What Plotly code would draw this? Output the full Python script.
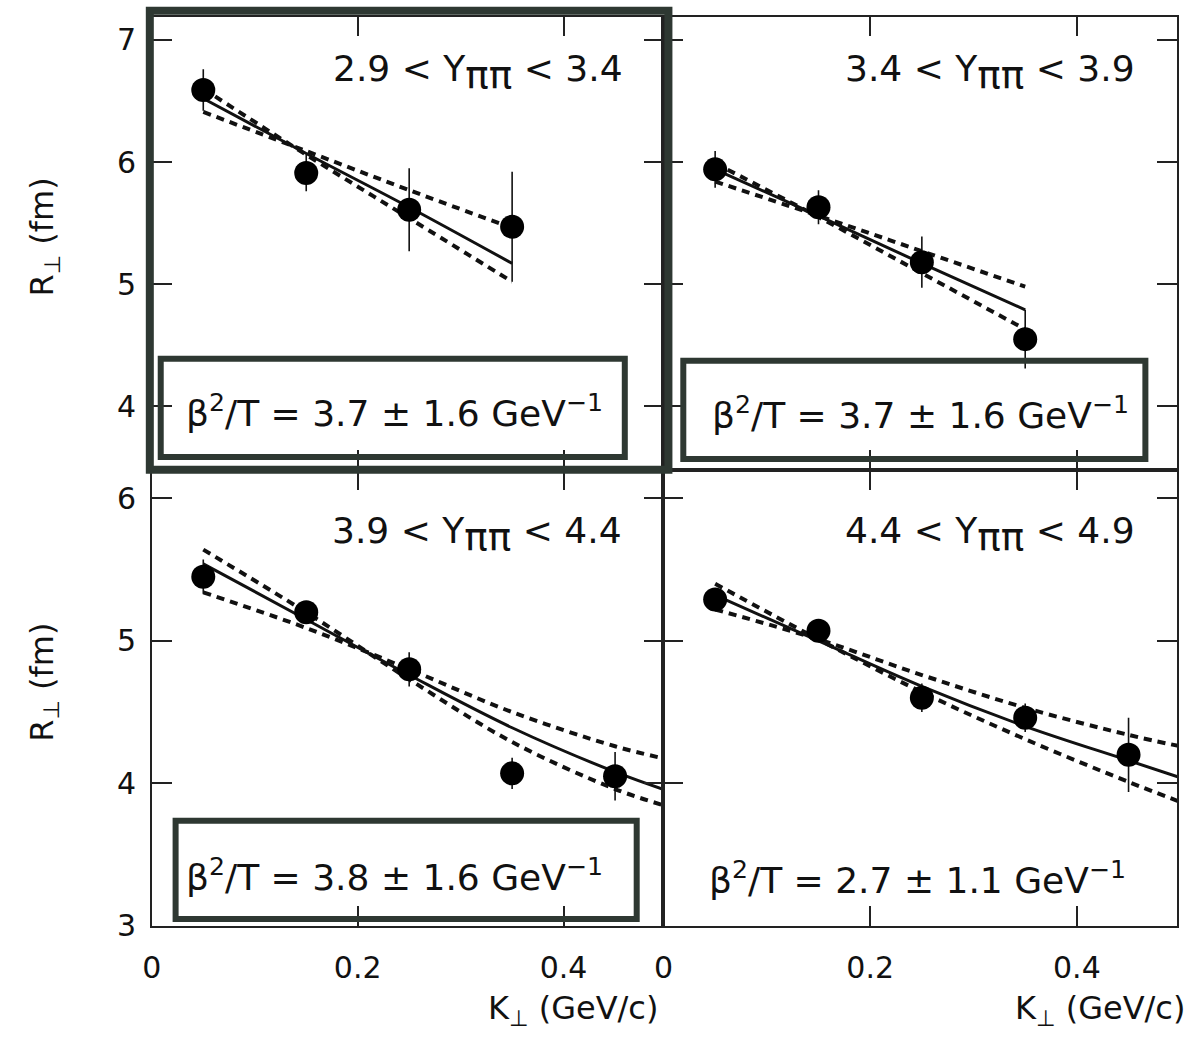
import plotly.graph_objects as go

# ---------------- data ----------------
PI2 = "<span style='font-size:39px;baseline-shift:-7px'>ππ</span>"
panel_titles = ["2.9 < Y" + PI2 + " < 3.4",
                "3.4 < Y" + PI2 + " < 3.9",
                "3.9 < Y" + PI2 + " < 4.4",
                "4.4 < Y" + PI2 + " < 4.9"]
fit_labels = ["β<sup>2</sup>/T = 3.7 ± 1.6 GeV<sup>−1</sup>",
              "β<sup>2</sup>/T = 3.7 ± 1.6 GeV<sup>−1</sup>",
              "β<sup>2</sup>/T = 3.8 ± 1.6 GeV<sup>−1</sup>",
              "β<sup>2</sup>/T = 2.7 ± 1.1 GeV<sup>−1</sup>"]

k_top = [0.05, 0.15, 0.25, 0.35]
k_bot = [0.05, 0.15, 0.25, 0.35, 0.45]
k_fit_top = [0.05, 0.15, 0.25, 0.35]
k_fit_bot = [0.05, 0.15, 0.25, 0.35, 0.45, 0.50]

r_p1 = [6.59, 5.91, 5.61, 5.47]
e_p1 = [0.17, 0.15, 0.34, 0.45]
r_p2 = [5.94, 5.63, 5.18, 4.55]
e_p2 = [0.15, 0.14, 0.21, 0.24]
r_p3 = [5.45, 5.20, 4.80, 4.07, 4.05]
e_p3 = [0.12, 0.07, 0.12, 0.11, 0.17]
r_p4 = [5.29, 5.07, 4.60, 4.46, 4.20]
e_p4 = [0.05, 0.05, 0.10, 0.10, 0.26]

fit_p1 = [6.52, 6.07, 5.63, 5.17]
steep_p1 = [6.60, 6.06, 5.54, 5.02]
shallow_p1 = [6.41, 6.09, 5.77, 5.46]
fit_p2 = [5.94, 5.56, 5.17, 4.79]
steep_p2 = [5.99, 5.55, 5.09, 4.63]
shallow_p2 = [5.84, 5.56, 5.27, 4.98]
fit_p3 = [5.54, 5.15, 4.76, 4.39, 4.08, 3.95]
steep_p3 = [5.64, 5.20, 4.73, 4.29, 3.96, 3.84]
shallow_p3 = [5.34, 5.09, 4.80, 4.50, 4.26, 4.17]
fit_p4 = [5.32, 5.00, 4.68, 4.40, 4.16, 4.04]
steep_p4 = [5.40, 5.01, 4.64, 4.31, 4.01, 3.87]
shallow_p4 = [5.22, 5.01, 4.76, 4.53, 4.34, 4.26]

x_ticks = [0, 0.2, 0.4]
y_ticks_top = [4, 5, 6, 7]
y_ticks_bot = [3, 4, 5, 6]

# ---------------- figure ----------------
W, H = 1191, 1050
FONT = "DejaVu Sans"
INK = "#111111"
BOX = "#2e3832"

def px(x):
    return x / W

def py(y):
    return 1 - y / H

panels = [
    ("x", "y", k_top, r_p1, e_p1, k_fit_top, fit_p1, steep_p1, shallow_p1),
    ("x2", "y2", k_top, r_p2, e_p2, k_fit_top, fit_p2, steep_p2, shallow_p2),
    ("x3", "y3", k_bot, r_p3, e_p3, k_fit_bot, fit_p3, steep_p3, shallow_p3),
    ("x4", "y4", k_bot, r_p4, e_p4, k_fit_bot, fit_p4, steep_p4, shallow_p4),
]

fig = go.Figure()
for xa, ya, kx, r, e, kf, fs, st, sh in panels:
    for yy in (st, sh):
        fig.add_trace(go.Scatter(x=kf, y=yy, xaxis=xa, yaxis=ya, mode="lines",
                                 line=dict(color=INK, width=4, dash="8px,6px", shape="spline"),
                                 showlegend=False, hoverinfo="skip"))
    fig.add_trace(go.Scatter(x=kf, y=fs, xaxis=xa, yaxis=ya, mode="lines",
                             line=dict(color=INK, width=3, shape="spline"),
                             showlegend=False, hoverinfo="skip"))
    fig.add_trace(go.Scatter(x=kx, y=r, xaxis=xa, yaxis=ya, mode="markers",
                             marker=dict(size=24, color="black"),
                             error_y=dict(type="data", array=e, color=INK, thickness=1.6, width=0),
                             showlegend=False))

xL = [px(143), px(659)]
xR = [px(659), px(1177)]
yT = [py(478), py(17)]
yB = [py(942), py(478)]

axis_common = dict(showline=True, mirror="allticks", linecolor="#222222", linewidth=1.5,
                   ticks="inside", ticklen=20, tickwidth=1.5, tickcolor="#222222",
                   showgrid=False, zeroline=False,
                   tickfont=dict(family=FONT, size=30, color=INK))

xr = [0, 0.497]
fig.update_layout(
    xaxis=dict(domain=xL, range=xr, anchor="y", tickvals=x_ticks, showticklabels=False, **axis_common),
    yaxis=dict(domain=yT, range=[3.48, 7.19], anchor="x", tickvals=y_ticks_top, ticklabelstandoff=8, **axis_common),
    xaxis2=dict(domain=xR, range=xr, anchor="y2", tickvals=x_ticks, showticklabels=False, **axis_common),
    yaxis2=dict(domain=yT, range=[3.48, 7.19], anchor="x2", tickvals=y_ticks_top, showticklabels=False, **axis_common),
    xaxis3=dict(domain=xL, range=xr, anchor="y3", tickvals=x_ticks, ticktext=["0", "0.2", "0.4"],
                ticklabelstandoff=14, **axis_common),
    yaxis3=dict(domain=yB, range=[3.0, 6.2], anchor="x3", tickvals=y_ticks_bot, ticklabelstandoff=8, **axis_common),
    xaxis4=dict(domain=xR, range=xr, anchor="y4", tickvals=x_ticks, ticktext=["0", "0.2", "0.4"],
                ticklabelstandoff=14, **axis_common),
    yaxis4=dict(domain=yB, range=[3.0, 6.2], anchor="x4", tickvals=y_ticks_bot, showticklabels=False, **axis_common),
    width=W, height=H, autosize=False,
    margin=dict(l=0, r=0, t=0, b=0),
    paper_bgcolor="white", plot_bgcolor="white",
    font=dict(family=FONT, color=INK),
)

annotations = []
title_pos = [(472, 74), (988, 74), (471, 544), (988, 544)]
for (cx, cy), t in zip(title_pos, panel_titles):
    annotations.append(dict(x=px(cx), y=py(cy), xref="paper", yref="paper", text=t,
                            showarrow=False, xanchor="center", yanchor="middle",
                            font=dict(family=FONT, size=36, color=INK)))
fit_pos = [(388, 418), (918, 420), (388, 890), (915, 893)]
for (cx, cy), t in zip(fit_pos, fit_labels):
    annotations.append(dict(x=px(cx), y=py(cy), xref="paper", yref="paper", text=t,
                            showarrow=False, xanchor="center", yanchor="middle",
                            font=dict(family=FONT, size=36, color=INK)))
for cy in (241, 694):
    annotations.append(dict(x=px(34), y=py(cy), xref="paper", yref="paper",
                            text="R<sub>⊥</sub> (fm)", textangle=-90, showarrow=False,
                            xanchor="center", yanchor="middle",
                            font=dict(family=FONT, size=32, color=INK)))
for cx in (568, 1099):
    annotations.append(dict(x=px(cx), y=py(1028), xref="paper", yref="paper",
                            text="K<sub>⊥</sub> (GeV/c)", showarrow=False,
                            xanchor="center", yanchor="middle",
                            font=dict(family=FONT, size=32, color=INK)))
fig.update_layout(annotations=annotations)

shapes = [
    dict(type="rect", xref="paper", yref="paper", x0=px(141), x1=px(664), y0=py(478), y1=py(11),
         line=dict(color=BOX, width=8), fillcolor="rgba(0,0,0,0)"),
    dict(type="rect", xref="paper", yref="paper", x0=px(152), x1=px(620), y0=py(465), y1=py(365),
         line=dict(color=BOX, width=6), fillcolor="rgba(0,0,0,0)"),
    dict(type="rect", xref="paper", yref="paper", x0=px(679), x1=px(1145), y0=py(467), y1=py(367),
         line=dict(color=BOX, width=6), fillcolor="rgba(0,0,0,0)"),
    dict(type="rect", xref="paper", yref="paper", x0=px(167), x1=px(632), y0=py(935), y1=py(835),
         line=dict(color=BOX, width=6), fillcolor="rgba(0,0,0,0)"),
]
fig.update_layout(shapes=shapes)

fig.write_html("out.html")
